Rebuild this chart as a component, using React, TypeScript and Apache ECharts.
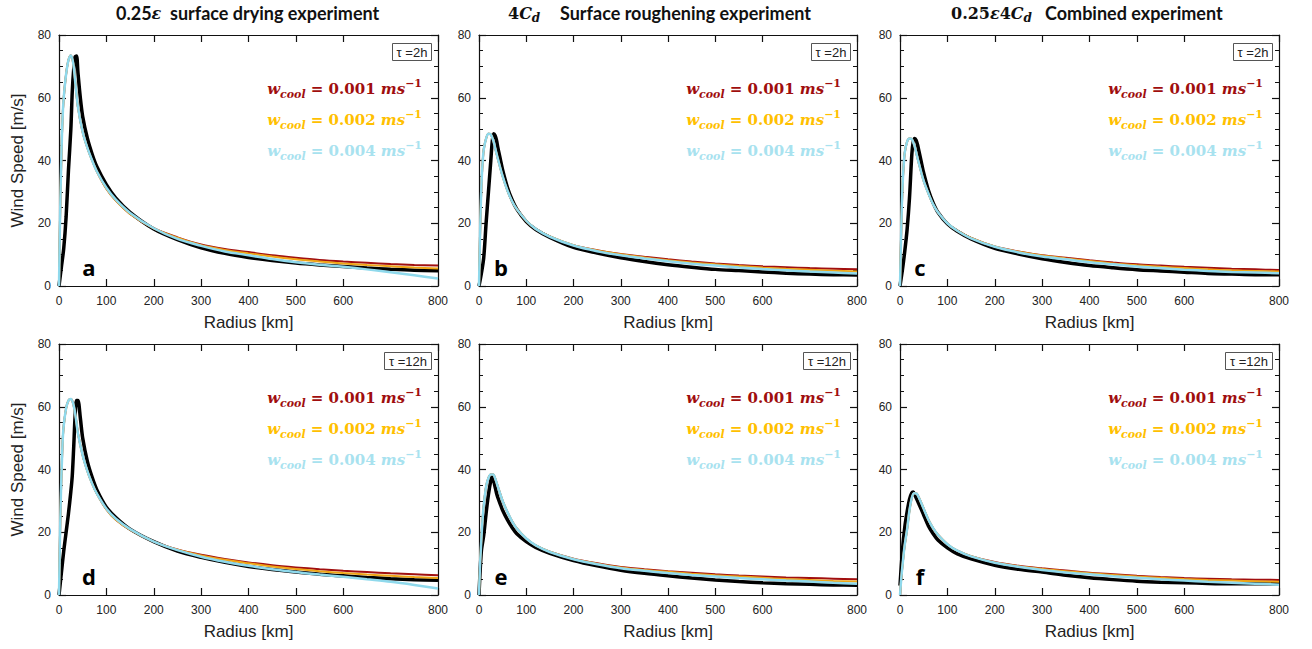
import React, { useEffect, useRef } from 'react';
import * as echarts from 'echarts';

// ---------- shared radius grids (km) ----------
const CORE_R = [0, 2, 4, 6, 8, 10, 15, 20, 25, 30, 35, 40, 50, 60, 70, 80];
const BLACK_R = [0, 5, 10, 15, 20, 25, 28, 31, 34, 37, 40, 45, 50, 60, 70, 80];
const TAIL_R = [100, 120, 150, 200, 250, 300, 350, 400, 450, 500, 550, 600, 650, 700, 750, 800];

const X_TICKS = [0, 100, 200, 300, 400, 500, 600, 800];
const PANEL_LABELS = ['a', 'b', 'c', 'd', 'e', 'f'];
const TAU_LABELS = ['τ =2h', 'τ =2h', 'τ =2h', 'τ =12h', 'τ =12h', 'τ =12h'];
const WCOOL_VALUES = ['0.001', '0.002', '0.004'];
const TITLE_WORDS = ['surface drying experiment', 'Surface roughening experiment', 'Combined experiment'];

// ---------- panel a (0.25ε, τ=2h) ----------
const A_BLACK_CORE = [0, 6, 12, 22, 37, 50, 62, 69, 73, 73.3, 68, 60, 54, 47, 42, 38];
const A_BLACK_TAIL = [32.3, 28, 23.5, 18.2, 14.8, 12.2, 10.4, 9.1, 8.1, 7.3, 6.7, 6.2, 5.7, 5.3, 5.0, 4.9];
const A_COLOR_CORE = [0, 20, 35, 47, 55, 60, 67.5, 72, 73.5, 71, 64, 57, 49, 44, 40, 36.5];
const A_RED_TAIL = [31, 27.2, 23, 18.4, 15.5, 13.2, 11.8, 10.8, 9.8, 9.0, 8.3, 7.8, 7.4, 7.0, 6.7, 6.5];
const A_ORANGE_TAIL = [31, 27.2, 23, 18.4, 15.4, 13.0, 11.5, 10.4, 9.4, 8.5, 7.8, 7.2, 6.7, 6.3, 5.9, 5.6];
const A_CYAN_TAIL = [31.3, 27.5, 23.3, 18.4, 15.0, 12.8, 11.0, 9.8, 8.6, 7.6, 6.8, 6.1, 5.3, 4.4, 3.4, 2.4];

// ---------- panel b (4Cd, τ=2h) ----------
const B_BLACK_CORE = [0, 4, 9, 20, 30, 40, 46, 48.5, 48, 46.5, 44, 40.5, 37, 31.5, 27.5, 24.5];
const B_BLACK_TAIL = [20.5, 18, 15.5, 12.3, 10.5, 9.0, 7.8, 6.8, 6.0, 5.3, 4.9, 4.5, 4.1, 3.8, 3.6, 3.5];
const B_COLOR_CORE = [0, 15, 27, 35, 40, 43.5, 47, 48.5, 48.3, 46.5, 43.5, 40.5, 35, 30.5, 27, 24.5];
const B_RED_TAIL = [20.8, 18.2, 15.8, 13, 11.4, 10.2, 9.3, 8.5, 7.8, 7.2, 6.7, 6.3, 6.0, 5.7, 5.5, 5.3];
const B_ORANGE_TAIL = [20.8, 18.2, 15.8, 13, 11.3, 10.1, 9.1, 8.2, 7.5, 6.9, 6.4, 5.9, 5.5, 5.2, 4.9, 4.6];
const B_CYAN_TAIL = [20.8, 18.2, 15.7, 12.9, 11.1, 9.8, 8.8, 7.9, 7.1, 6.5, 5.9, 5.4, 5.0, 4.6, 4.3, 4.0];

// ---------- panel c (0.25ε4Cd, τ=2h) ----------
const C_BLACK_CORE = [0, 5, 11, 18, 28, 42, 46, 47, 46.5, 45, 43, 39.5, 36, 30.5, 26.5, 23.5];
const C_BLACK_TAIL = [19.8, 17.5, 15, 12, 10.2, 8.7, 7.5, 6.5, 5.8, 5.2, 4.8, 4.4, 4.0, 3.8, 3.6, 3.6];
const C_COLOR_CORE = [0, 14, 26, 34, 39, 42.5, 46, 47, 46.8, 45, 42, 39, 33.5, 29.5, 26, 23.5];
const C_RED_TAIL = [20, 17.7, 15.3, 12.6, 11, 9.8, 9.0, 8.2, 7.5, 6.9, 6.5, 6.1, 5.8, 5.5, 5.3, 5.1];
const C_ORANGE_TAIL = [20, 17.7, 15.3, 12.6, 10.9, 9.7, 8.8, 8.0, 7.2, 6.6, 6.1, 5.7, 5.3, 5.0, 4.8, 4.6];
const C_CYAN_TAIL = [20, 17.7, 15.2, 12.5, 10.7, 9.4, 8.5, 7.6, 6.9, 6.2, 5.7, 5.2, 4.8, 4.5, 4.3, 4.1];

// ---------- panel d (0.25ε, τ=12h) ----------
const D_BLACK_CORE = [0, 7, 14, 20, 26, 33, 38, 47, 57, 62, 62, 56.5, 50, 42.5, 37.5, 33.5];
const D_BLACK_TAIL = [28, 24.7, 21, 17, 14, 12, 10.4, 9.1, 8.1, 7.3, 6.6, 6.1, 5.6, 5.2, 4.9, 4.7];
const D_COLOR_CORE = [0, 18, 32, 42, 50, 54, 59.5, 62, 62.5, 61, 57, 51.5, 44.5, 39.5, 35.5, 32.3];
const D_RED_TAIL = [27.3, 24, 20.8, 17, 14.5, 12.8, 11.5, 10.4, 9.5, 8.8, 8.2, 7.7, 7.3, 6.9, 6.6, 6.3];
const D_ORANGE_TAIL = [27.3, 24, 20.8, 17, 14.4, 12.6, 11.2, 10.1, 9.1, 8.3, 7.6, 7.0, 6.5, 6.1, 5.7, 5.4];
const D_CYAN_TAIL = [27.5, 24.3, 21, 17, 14.3, 12.2, 10.6, 9.3, 8.2, 7.3, 6.5, 5.8, 5.0, 4.2, 3.2, 2.1];

// ---------- panel e (4Cd, τ=12h) ----------
const E_BLACK_CORE = [0, 14, 19, 26, 32, 36.5, 38, 36.5, 34.5, 32.5, 31, 29, 27, 24, 21.5, 19.5];
const E_BLACK_TAIL = [17, 15.2, 13.3, 11, 9.3, 7.9, 6.9, 6.1, 5.4, 4.8, 4.3, 3.9, 3.6, 3.4, 3.2, 3.1];
const E_COLOR_CORE = [0, 9, 15, 20.5, 25, 28.5, 34.5, 37.3, 38.4, 38.4, 36.8, 34.5, 30, 26.5, 23.5, 21.2];
const E_RED_TAIL = [18, 15.8, 13.8, 11.6, 10.1, 8.9, 8.2, 7.6, 7.1, 6.6, 6.2, 5.9, 5.6, 5.4, 5.2, 5.0];
const E_ORANGE_TAIL = [18, 15.8, 13.8, 11.5, 10, 8.8, 8.0, 7.4, 6.8, 6.3, 5.9, 5.5, 5.1, 4.8, 4.5, 4.3];
const E_CYAN_TAIL = [18, 15.8, 13.7, 11.4, 9.8, 8.5, 7.7, 7.0, 6.4, 5.9, 5.4, 5.0, 4.6, 4.3, 3.9, 3.6];

// ---------- panel f (0.25ε4Cd, τ=12h) ----------
const F_BLACK_CORE = [3, 14, 21.5, 26.5, 30.5, 32.6, 32.8, 32, 31, 30, 29, 27.3, 25.5, 22, 19.5, 17.5];
const F_BLACK_TAIL = [15, 13.2, 11.5, 9.5, 8.2, 7.3, 6.3, 5.5, 4.9, 4.4, 4.1, 3.9, 3.7, 3.6, 3.6, 3.6];
const F_COLOR_CORE = [0, 4, 7.5, 10.5, 13.5, 16, 21, 27, 31, 32.4, 32.3, 31, 27.5, 24, 21.3, 19.2];
const F_RED_TAIL = [16.2, 14.2, 12.4, 10.5, 9.3, 8.5, 7.8, 7.1, 6.6, 6.1, 5.7, 5.4, 5.2, 5.0, 4.9, 4.8];
const F_ORANGE_TAIL = [16.2, 14.2, 12.4, 10.4, 9.2, 8.3, 7.6, 6.9, 6.4, 5.9, 5.5, 5.1, 4.8, 4.6, 4.4, 4.2];
const F_CYAN_TAIL = [16.2, 14.2, 12.3, 10.3, 9.0, 8.0, 7.2, 6.6, 6.0, 5.5, 5.0, 4.6, 4.2, 3.9, 3.6, 3.3];

const PANELS = [
  { black: [A_BLACK_CORE, A_BLACK_TAIL], core: A_COLOR_CORE, tails: [A_RED_TAIL, A_ORANGE_TAIL, A_CYAN_TAIL] },
  { black: [B_BLACK_CORE, B_BLACK_TAIL], core: B_COLOR_CORE, tails: [B_RED_TAIL, B_ORANGE_TAIL, B_CYAN_TAIL] },
  { black: [C_BLACK_CORE, C_BLACK_TAIL], core: C_COLOR_CORE, tails: [C_RED_TAIL, C_ORANGE_TAIL, C_CYAN_TAIL] },
  { black: [D_BLACK_CORE, D_BLACK_TAIL], core: D_COLOR_CORE, tails: [D_RED_TAIL, D_ORANGE_TAIL, D_CYAN_TAIL] },
  { black: [E_BLACK_CORE, E_BLACK_TAIL], core: E_COLOR_CORE, tails: [E_RED_TAIL, E_ORANGE_TAIL, E_CYAN_TAIL] },
  { black: [F_BLACK_CORE, F_BLACK_TAIL], core: F_COLOR_CORE, tails: [F_RED_TAIL, F_ORANGE_TAIL, F_CYAN_TAIL] },
];

// ---------- styling / layout ----------
const LINE_COLORS = ['#A10F0F', '#EFA515', '#8FD9EC'];
const TEXT_COLORS = ['#A00E0E', '#FFC000', '#A8E2EF'];
const LINE_WIDTHS = [2, 2, 2.5];
const COL_LEFT = [59, 479, 900];
const COL_WIDTH = [379, 378, 379];
const ROW_TOP = [35, 344];
const ROW_HEIGHT = 251;
const SANS = 'Liberation Sans';
const SERIF = 'DejaVu Serif';

const zip = (xs: number[], ys: number[]) => xs.map((x, i) => [x, ys[i]]);

export default function App() {
  const ref = useRef<HTMLDivElement>(null);

  useEffect(() => {
    document.body.style.margin = '0';
    if (!ref.current) return;
    const chart = echarts.init(ref.current, undefined, { renderer: 'svg' });

    const grids: any[] = [];
    const xAxes: any[] = [];
    const yAxes: any[] = [];
    const series: any[] = [];
    const graphics: any[] = [];

    const axisLine = { show: true, onZero: false, lineStyle: { color: '#111', width: 1.2 } };
    const tickStyle = { color: '#111', width: 1.2 };

    PANELS.forEach((p, i) => {
      const col = i % 3;
      const row = Math.floor(i / 3);
      const left = COL_LEFT[col];
      const width = COL_WIDTH[col];
      const top = ROW_TOP[row];
      const right = left + width;
      const bottom = top + ROW_HEIGHT;
      grids.push({ left, top, width, height: ROW_HEIGHT, containLabel: false });

      const xBase = {
        gridIndex: i, type: 'value', min: 0, max: 800, interval: 100,
        axisLine, splitLine: { show: false },
      };
      xAxes.push({
        ...xBase, position: 'bottom',
        axisTick: { show: true, inside: true, length: 7, customValues: X_TICKS, lineStyle: tickStyle },
        axisLabel: { show: true, customValues: X_TICKS, margin: 9, fontSize: 12, fontFamily: SANS, color: '#222' },
        name: 'Radius [km]', nameLocation: 'middle', nameGap: 28,
        nameTextStyle: { fontSize: 17, fontFamily: SANS, color: '#222' },
      });
      xAxes.push({
        ...xBase, position: 'top',
        axisTick: { show: true, inside: true, length: 7, customValues: X_TICKS, lineStyle: tickStyle },
        axisLabel: { show: false },
      });
      const yBase = {
        gridIndex: i, type: 'value', min: 0, max: 80, interval: 20,
        axisLine, splitLine: { show: false },
        axisTick: { show: true, inside: true, length: 7, lineStyle: tickStyle },
        minorTick: { show: true, splitNumber: 4, length: 4, lineStyle: { color: '#111', width: 1 } },
        minorSplitLine: { show: false },
      };
      yAxes.push({
        ...yBase, position: 'left',
        axisLabel: { show: true, margin: 8, fontSize: 12, fontFamily: SANS, color: '#222' },
        ...(col === 0
          ? {
              name: 'Wind Speed [m/s]', nameLocation: 'middle', nameGap: 33,
              nameTextStyle: { fontSize: 17, fontFamily: SANS, color: '#222' },
            }
          : {}),
      });
      yAxes.push({ ...yBase, position: 'right', axisLabel: { show: false } });

      const xi = 2 * i;
      series.push({
        type: 'line', xAxisIndex: xi, yAxisIndex: xi, showSymbol: false, smooth: 0.3,
        data: zip(BLACK_R, p.black[0]).concat(zip(TAIL_R, p.black[1])),
        lineStyle: { color: '#000', width: 3.5 }, z: 2,
      });
      p.tails.forEach((tail, k) => {
        series.push({
          type: 'line', xAxisIndex: xi, yAxisIndex: xi, showSymbol: false, smooth: 0.3,
          data: zip(CORE_R, p.core).concat(zip(TAIL_R, tail)),
          lineStyle: { color: LINE_COLORS[k], width: LINE_WIDTHS[k] }, z: 3 + k,
        });
      });

      // tau box
      const boxW = row === 0 ? 39 : 47;
      const boxH = 17;
      const bx = right - 6.5 - boxW;
      const by = top + 8.5;
      graphics.push({
        type: 'rect', shape: { x: bx, y: by, width: boxW, height: boxH },
        style: { fill: '#fff', stroke: '#555', lineWidth: 1 }, z: 100,
      });
      graphics.push({
        type: 'text', x: bx + boxW / 2, y: by + boxH / 2 + 0.5, z: 101,
        style: {
          text: TAU_LABELS[i], fill: '#222', font: `13px "${SANS}"`,
          align: 'center', verticalAlign: 'middle', textAlign: 'center', textVerticalAlign: 'middle',
        },
      });

      // panel letter
      const lx = left + (col === 0 ? 30 : col === 1 ? 22 : 20);
      graphics.push({
        type: 'text', x: lx, y: bottom - 19, z: 101,
        style: {
          text: PANEL_LABELS[i], fill: '#000', font: 'bold 22px "Open Sans"',
          align: 'center', verticalAlign: 'middle', textAlign: 'center', textVerticalAlign: 'middle',
        },
      });

      // w_cool legend
      WCOOL_VALUES.forEach((v, k) => {
        const fill = TEXT_COLORS[k];
        graphics.push({
          type: 'text', x: right - 16, y: top + 54 + 31 * k, z: 101,
          style: {
            text: `{w|w}{sub|cool}{eq| = ${v} }{w|ms}{sup|−1}`,
            fill,
            align: 'right', verticalAlign: 'middle', textAlign: 'right', textVerticalAlign: 'middle',
            rich: {
              w: { fontFamily: SERIF, fontStyle: 'italic', fontWeight: 'bold', fontSize: 15, lineHeight: 22, fill },
              eq: { fontFamily: SERIF, fontWeight: 'bold', fontSize: 15, lineHeight: 22, fill },
              sub: { fontFamily: SERIF, fontStyle: 'italic', fontWeight: 'bold', fontSize: 11, verticalAlign: 'bottom', fill },
              sup: { fontFamily: SERIF, fontWeight: 'bold', fontSize: 11, verticalAlign: 'top', fill },
            },
          },
        });
      });
    });

    // titles: math part + words part
    const mathRich = {
      n: { fontFamily: 'Lato', fontWeight: 'bold', fontSize: 18, lineHeight: 22, fill: '#111' },
      m: { fontFamily: SERIF, fontWeight: 'bold', fontSize: 16, lineHeight: 22, fill: '#111' },
      mi: { fontFamily: SERIF, fontStyle: 'italic', fontWeight: 'bold', fontSize: 16, lineHeight: 22, fill: '#111' },
      sub: { fontFamily: SERIF, fontStyle: 'italic', fontWeight: 'bold', fontSize: 12, verticalAlign: 'bottom', fill: '#111' },
    };
    const TITLE_MATH = [
      { x: 116, text: '{n|0.25}{mi|ε}' },
      { x: 508, text: '{m|4}{mi|C}{sub|d}' },
      { x: 951, text: '{m|0.25}{mi|ε}{m|4}{mi|C}{sub|d}' },
    ];
    const TITLE_WORD_X = [170, 560, 1045];
    TITLE_MATH.forEach((t, j) => {
      graphics.push({
        type: 'text', x: t.x, y: 13, z: 101,
        style: {
          text: t.text, rich: mathRich, fill: '#111',
          align: 'left', verticalAlign: 'middle', textAlign: 'left', textVerticalAlign: 'middle',
        },
      });
      graphics.push({
        type: 'text', x: TITLE_WORD_X[j], y: 13, z: 101,
        style: {
          text: TITLE_WORDS[j], fill: '#111', font: 'bold 18px Lato',
          align: 'left', verticalAlign: 'middle', textAlign: 'left', textVerticalAlign: 'middle',
        },
      });
    });

    chart.setOption({
      animation: false,
      backgroundColor: '#fff',
      grid: grids,
      xAxis: xAxes,
      yAxis: yAxes,
      series,
      graphic: { elements: graphics },
    });

    return () => chart.dispose();
  }, []);

  return <div ref={ref} style={{ width: 1312, height: 649 }} />;
}
